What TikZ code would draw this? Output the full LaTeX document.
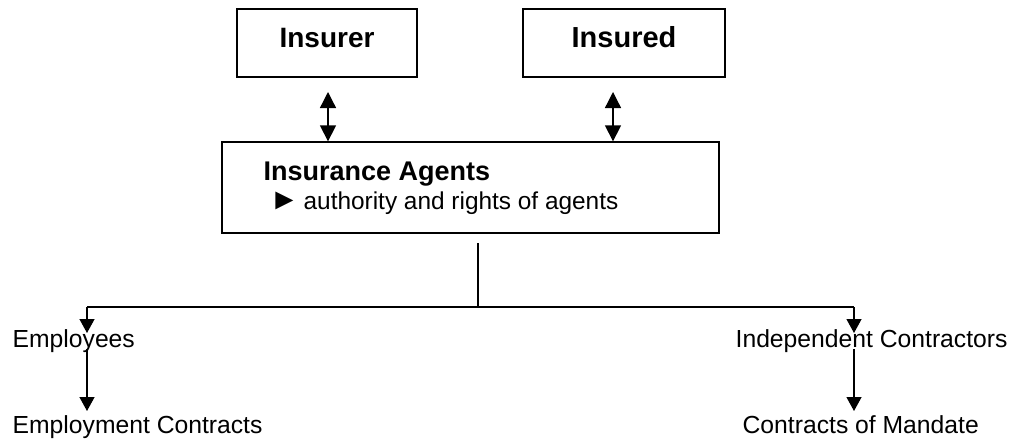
\documentclass[tikz,border=0pt]{standalone}
\usepackage{fontspec}
\setmainfont{Liberation Sans}
\usetikzlibrary{arrows.meta,calc}
\begin{document}
\begin{tikzpicture}[x=1pt,y=-1pt,
  line width=1.3pt,
  box/.style={draw,line width=1.3pt,rectangle,inner sep=0pt},
  lbl/.style={inner sep=0pt,anchor=base west,font=\fontsize{24.7}{28}\selectfont},
  btitle/.style={inner sep=0pt,anchor=base,font=\fontsize{28}{30}\selectfont\bfseries},
  dbl/.style={{Triangle[length=16pt,width=16pt]}-{Triangle[length=16pt,width=16pt]}},
  down/.style={-{Triangle[length=14pt,width=15pt]}}]
\useasboundingbox (0,0) rectangle (1014,439);
% boxes
\node[box,minimum width=497pt,minimum height=91pt] (agents) at (470.5,187.5) {};
\node[box,minimum width=180pt,minimum height=68pt] (insurer) at (327,43) {};
\node[box,minimum width=202pt,minimum height=68pt] (insured) at (624,43) {};
% box texts
\node[btitle] (insurerT) at (327,47) {Insurer};
\node[btitle,font=\fontsize{29}{32}\selectfont\bfseries] (insuredT) at (624,47) {Insured};
\node[inner sep=0pt,anchor=base west,font=\fontsize{27}{30}\selectfont\bfseries] (agentsT) at (263,180) {Insurance Agents};
\node[inner sep=0pt,anchor=base west,font=\fontsize{30}{30}\selectfont] (bullet) at (269,209) {►};
\node[inner sep=0pt,anchor=base west,font=\fontsize{24.4}{27}\selectfont] (agentsB) at (303,209) {authority and rights of agents};
% double arrows
\coordinate (a1) at (328,92);
\coordinate (a2) at (613,92);
\draw[dbl] (a1) -- (a1 |- agents.north);
\draw[dbl] (a2) -- (a2 |- agents.north);
% tree
\coordinate (stemtop) at (478,243);
\coordinate (stembot) at (478,307);
\coordinate (lc) at (87,307);
\coordinate (rc) at (854,307);
\draw (stemtop) -- (stembot);
\draw (lc) -- (rc);
\node[lbl] (emp) at (12,347) {Employees};
\node[lbl] (ind) at (735,347) {Independent Contractors};
\node[lbl] (empc) at (12,433) {Employment Contracts};
\node[lbl] (mand) at (742,433) {Contracts of Mandate};
\coordinate (lt) at (87,333);
\coordinate (rt) at (854,333);
\draw[down] (lc) -- (lt);
\draw[down] (rc) -- (rt);
\coordinate (l2s) at (87,349);
\coordinate (l2e) at (87,411);
\coordinate (r2s) at (854,349);
\coordinate (r2e) at (854,411);
\draw[down] (l2s) -- (l2e);
\draw[down] (r2s) -- (r2e);
\end{tikzpicture}
\end{document}
